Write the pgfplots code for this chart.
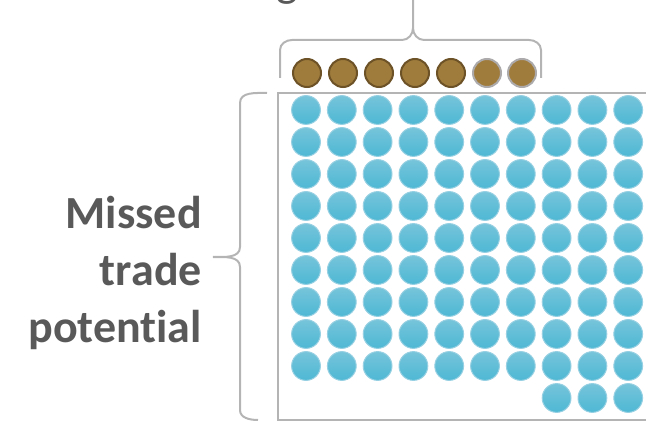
\documentclass[border=0pt]{standalone}
\usepackage{pgfplots}
\pgfplotsset{compat=1.18}
\usepackage{fontspec}
\setmainfont{Carlito}[Ligatures=NoCommon]
\definecolor{bluefill}{RGB}{92,189,214}
\definecolor{bluetop}{RGB}{118,196,218}
\definecolor{bluebot}{RGB}{78,184,212}
\definecolor{blueedge}{RGB}{150,208,226}
\definecolor{brownfill}{RGB}{160,124,60}
\definecolor{brownedge}{RGB}{108,82,38}
\definecolor{greyedge}{RGB}{172,170,170}
\definecolor{frame}{RGB}{180,180,180}
\definecolor{txt}{RGB}{89,89,89}
\pgfdeclareplotmark{bball}{%
  \shade[top color=bluetop,bottom color=bluebot,draw=blueedge,line width=1pt] (0,0) circle (14.4pt);}
\begin{document}
\begin{tikzpicture}
\begin{axis}[
  width=646pt, height=422pt, scale only axis,
  xmin=0, xmax=646, ymin=0, ymax=422, y dir=reverse,
  hide axis, clip=false, anchor=south west, at={(0,0)}]
% frame
\addplot[frame, line width=2pt] coordinates {(646,93) (278,93) (278,420) (646,420)};
% blue circles: missed trade potential
\addplot[only marks, mark=bball] coordinates {
(306,110) (341.8,110) (377.6,110) (413.4,110) (449.2,110) (485,110) (520.8,110) (556.6,110) (592.4,110) (628.2,110)
(306,142) (341.8,142) (377.6,142) (413.4,142) (449.2,142) (485,142) (520.8,142) (556.6,142) (592.4,142) (628.2,142)
(306,174) (341.8,174) (377.6,174) (413.4,174) (449.2,174) (485,174) (520.8,174) (556.6,174) (592.4,174) (628.2,174)
(306,206) (341.8,206) (377.6,206) (413.4,206) (449.2,206) (485,206) (520.8,206) (556.6,206) (592.4,206) (628.2,206)
(306,238) (341.8,238) (377.6,238) (413.4,238) (449.2,238) (485,238) (520.8,238) (556.6,238) (592.4,238) (628.2,238)
(306,270) (341.8,270) (377.6,270) (413.4,270) (449.2,270) (485,270) (520.8,270) (556.6,270) (592.4,270) (628.2,270)
(306,302) (341.8,302) (377.6,302) (413.4,302) (449.2,302) (485,302) (520.8,302) (556.6,302) (592.4,302) (628.2,302)
(306,334) (341.8,334) (377.6,334) (413.4,334) (449.2,334) (485,334) (520.8,334) (556.6,334) (592.4,334) (628.2,334)
(306,366) (341.8,366) (377.6,366) (413.4,366) (449.2,366) (485,366) (520.8,366) (556.6,366) (592.4,366) (628.2,366)
(556.6,398) (592.4,398) (628.2,398)
};
% brown circles
\addplot[only marks, mark=*, mark size=14pt, mark options={fill=brownfill, draw=brownedge, line width=2pt}]
  coordinates {(307,73) (343,73) (379,73) (415,73) (451,73)};
\addplot[only marks, mark=*, mark size=14pt, mark options={fill=brownfill, draw=greyedge, line width=2pt}]
  coordinates {(487,73) (522,73)};
% left brace
\draw[frame, line width=2pt]
  (axis cs:267,93) to[out=180,in=90] (axis cs:240,103)
  -- (axis cs:240,247) to[out=-90,in=0] (axis cs:213,257)
  to[out=0,in=90] (axis cs:240,267)
  -- (axis cs:240,410) to[out=-90,in=180] (axis cs:258,420);
% top brace
\draw[frame, line width=2pt]
  (axis cs:280,78) -- (axis cs:280,50) to[out=90,in=180] (axis cs:292,40)
  -- (axis cs:402,40) to[out=0,in=-90] (axis cs:413,28) -- (axis cs:413,0);
\draw[frame, line width=2pt]
  (axis cs:541,78) -- (axis cs:541,50) to[out=90,in=0] (axis cs:529,40)
  -- (axis cs:424,40) to[out=180,in=-90] (axis cs:413,28);
% texts
\node[anchor=base east, align=right, text=txt, font=\fontsize{46}{57.5}\selectfont\bfseries, inner sep=0pt]
  at (axis cs:202,343) {Missed\\trade\\potential};
\node[anchor=base east, text=txt, font=\fontsize{46}{57.5}\selectfont, inner sep=0pt]
  at (axis cs:298,-3) {Existing};
\end{axis}
\pgfresetboundingbox
\path (0,0) rectangle (646pt,422pt);
\end{tikzpicture}
\end{document}
